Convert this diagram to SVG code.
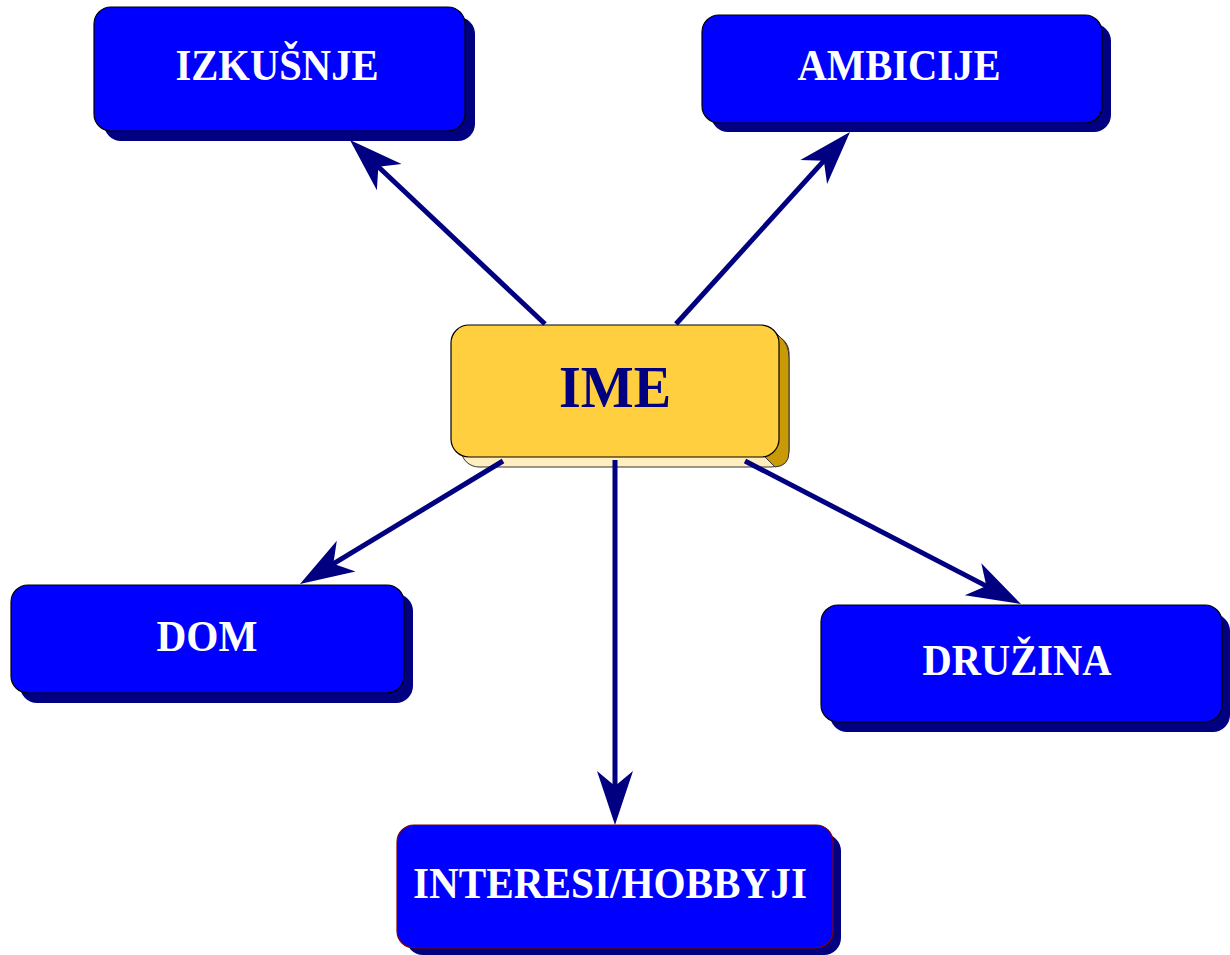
<svg xmlns="http://www.w3.org/2000/svg" width="1230" height="955" viewBox="0 0 1230 955">
  <defs>
    <style>
      .shadow { fill: #000080; }
      .box { fill: #0000FF; stroke: #000000; stroke-width: 1.2; }
      .label { font-family: "Liberation Serif", "Times New Roman", serif; font-weight: bold; font-size: 45px; fill: #FFFFFF; text-anchor: middle; }
      .conn { stroke: #000080; stroke-width: 5; fill: none; marker-end: url(#head); }
    </style>
    <marker id="head" markerUnits="userSpaceOnUse" viewBox="-60 -22 65 44" markerWidth="65" markerHeight="44" refX="-35" refY="0" orient="auto">
      <path d="M0,0 L-54,-18 L-39,0 L-54,18 Z" fill="#000080"/>
    </marker>
  </defs>

  <rect width="1230" height="955" fill="#FFFFFF"/>

  <!-- centre node with its extruded edge -->
  <g id="ime">
    <rect x="461" y="335" width="328" height="132" rx="18" fill="#FFEFC0" stroke="#333333" stroke-width="1"/>
    <path d="M770,327 L780,337 Q789,344 789,358 L789,452 Q789,466 775,467 L765,457 Z" fill="#C99A06" stroke="#333333" stroke-width="1"/>
    <rect x="451" y="325" width="328" height="132" rx="18" fill="#FFCF40" stroke="#000000" stroke-width="1.2"/>
    <text x="615" y="407" font-family="Liberation Serif, Times New Roman, serif" font-weight="bold" font-size="60" fill="#000080" text-anchor="middle" textLength="112" lengthAdjust="spacingAndGlyphs">IME</text>
  </g>

  <!-- connectors from the centre node -->
  <g id="connectors">
    <line class="conn" x1="545" y1="324" x2="375.4" y2="164"/>
    <line class="conn" x1="676" y1="324" x2="826.5" y2="157.9"/>
    <line class="conn" x1="503" y1="461" x2="329.9" y2="565.9"/>
    <line class="conn" x1="615" y1="460" x2="615" y2="790"/>
    <line class="conn" x1="745" y1="461" x2="989.9" y2="587.9"/>
  </g>

  <g id="izkusnje">
    <rect class="shadow" x="104" y="17" width="371" height="124" rx="17"/>
    <rect class="box" x="94" y="7" width="371" height="124" rx="17"/>
    <text class="label" x="277" y="80" textLength="203" lengthAdjust="spacingAndGlyphs">IZKUŠNJE</text>
  </g>

  <g id="ambicije">
    <rect class="shadow" x="711" y="24" width="400" height="108" rx="17"/>
    <rect class="box" x="702" y="15" width="400" height="108" rx="17"/>
    <text class="label" x="899" y="80" textLength="203" lengthAdjust="spacingAndGlyphs">AMBICIJE</text>
  </g>

  <g id="dom">
    <rect class="shadow" x="20" y="594" width="393" height="109" rx="17"/>
    <rect class="box" x="11" y="585" width="393" height="108" rx="17"/>
    <text class="label" x="207" y="651" textLength="101" lengthAdjust="spacingAndGlyphs">DOM</text>
  </g>

  <g id="druzina">
    <rect class="shadow" x="830" y="614" width="400" height="118" rx="17"/>
    <rect class="box" x="821" y="605" width="401" height="117" rx="17"/>
    <text class="label" x="1017" y="675" textLength="189" lengthAdjust="spacingAndGlyphs">DRUŽINA</text>
  </g>

  <g id="interesi">
    <rect class="shadow" x="406" y="834" width="435" height="121" rx="17"/>
    <rect class="box" x="397" y="825" width="436" height="123" rx="17" style="stroke:#800000"/>
    <text class="label" x="610" y="898" textLength="394" lengthAdjust="spacingAndGlyphs">INTERESI/HOBBYJI</text>
  </g>
</svg>
